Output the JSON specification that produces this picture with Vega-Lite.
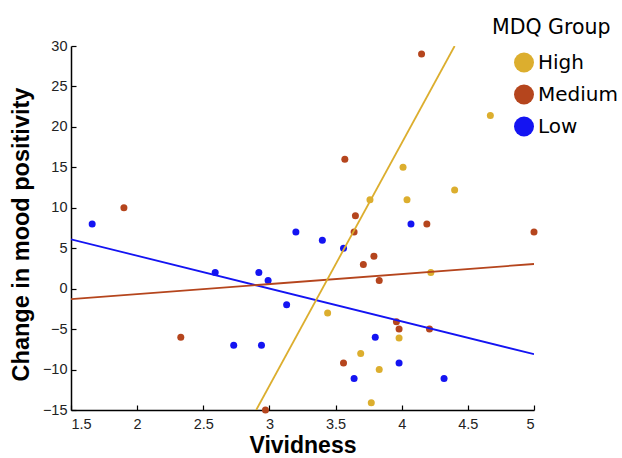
{
  "$schema": "https://vega.github.io/schema/vega-lite/v6.json",
  "autosize": "none",
  "width": 463,
  "height": 364,
  "padding": {"left": 71, "top": 46, "right": 88, "bottom": 48},
  "config": {
    "view": {"stroke": null},
    "font": "Liberation Sans",
    "axis": {
      "grid": false,
      "domainColor": "#000000",
      "domainWidth": 1.5,
      "tickColor": "#000000",
      "tickWidth": 1.2,
      "tickSize": -5,
      "labelColor": "#222222",
      "labelFontSize": 14.5,
      "labelFont": "Liberation Sans",
      "titleFont": "Liberation Sans",
      "titleFontSize": 23,
      "titleFontWeight": "bold",
      "titleColor": "#000000"
    }
  },
  "datasets": {
    "points": [
      {"vividness": 1.66, "change": 8, "group": "Low"},
      {"vividness": 3.2, "change": 7, "group": "Low"},
      {"vividness": 2.59, "change": 2, "group": "Low"},
      {"vividness": 2.92, "change": 2, "group": "Low"},
      {"vividness": 2.99, "change": 1, "group": "Low"},
      {"vividness": 3.13, "change": -2, "group": "Low"},
      {"vividness": 2.73, "change": -7, "group": "Low"},
      {"vividness": 2.94, "change": -7, "group": "Low"},
      {"vividness": 4.07, "change": 8, "group": "Low"},
      {"vividness": 3.4, "change": 6, "group": "Low"},
      {"vividness": 3.56, "change": 5, "group": "Low"},
      {"vividness": 3.8, "change": -6, "group": "Low"},
      {"vividness": 3.98, "change": -9.2, "group": "Low"},
      {"vividness": 3.64, "change": -11.1, "group": "Low"},
      {"vividness": 4.32, "change": -11.1, "group": "Low"},
      {"vividness": 1.9, "change": 10, "group": "Medium"},
      {"vividness": 4.15, "change": 29, "group": "Medium"},
      {"vividness": 3.57, "change": 16, "group": "Medium"},
      {"vividness": 3.65, "change": 9, "group": "Medium"},
      {"vividness": 4.19, "change": 8, "group": "Medium"},
      {"vividness": 2.33, "change": -6, "group": "Medium"},
      {"vividness": 2.97, "change": -15, "group": "Medium"},
      {"vividness": 5.0, "change": 7, "group": "Medium"},
      {"vividness": 3.64, "change": 7, "group": "Medium"},
      {"vividness": 3.79, "change": 4, "group": "Medium"},
      {"vividness": 3.71, "change": 3, "group": "Medium"},
      {"vividness": 3.83, "change": 1, "group": "Medium"},
      {"vividness": 3.96, "change": -4.1, "group": "Medium"},
      {"vividness": 3.98, "change": -5, "group": "Medium"},
      {"vividness": 4.21, "change": -5, "group": "Medium"},
      {"vividness": 3.56, "change": -9.2, "group": "Medium"},
      {"vividness": 4.67, "change": 21.4, "group": "High"},
      {"vividness": 4.01, "change": 15, "group": "High"},
      {"vividness": 4.4, "change": 12.2, "group": "High"},
      {"vividness": 3.76, "change": 11, "group": "High"},
      {"vividness": 4.04, "change": 11, "group": "High"},
      {"vividness": 4.22, "change": 2, "group": "High"},
      {"vividness": 3.44, "change": -3, "group": "High"},
      {"vividness": 3.98, "change": -6.1, "group": "High"},
      {"vividness": 3.69, "change": -8, "group": "High"},
      {"vividness": 3.83, "change": -10, "group": "High"},
      {"vividness": 3.77, "change": -14.1, "group": "High"}
    ],
    "fits": [
      {"vividness": 1.5, "change": 6.1, "group": "Low"},
      {"vividness": 5.0, "change": -8.1, "group": "Low"},
      {"vividness": 1.5, "change": -1.3, "group": "Medium"},
      {"vividness": 5.0, "change": 3.05, "group": "Medium"},
      {"vividness": 2.9, "change": -15, "group": "High"},
      {"vividness": 4.4, "change": 30, "group": "High"}
    ]
  },
  "encoding": {
    "x": {
      "field": "vividness", "type": "quantitative",
      "scale": {"domain": [1.5, 5], "nice": false, "zero": false},
      "axis": {"title": "Vividness", "values": [1.5, 2, 2.5, 3, 3.5, 4, 4.5, 5], "format": "~g", "labelPadding": 12, "titlePadding": 4}
    },
    "y": {
      "field": "change", "type": "quantitative",
      "scale": {"domain": [-15, 30], "nice": false, "zero": false},
      "axis": {"title": "Change in mood positivity", "values": [-15, -10, -5, 0, 5, 10, 15, 20, 25, 30], "labelPadding": 9, "titlePadding": 9, "titleY": 188, "titleFontSize": 23.5}
    },
    "color": {
      "field": "group", "type": "nominal",
      "scale": {"domain": ["High", "Medium", "Low"], "range": ["#DCAE2E", "#B5451D", "#1414F2"]},
      "legend": {
        "title": "MDQ Group",
        "orient": "none",
        "legendX": 421,
        "legendY": -28,
        "titleFont": "DejaVu Sans",
        "titleFontSize": 20.5,
        "titleFontWeight": "normal",
        "titleColor": "#000000",
        "titlePadding": 14,
        "labelFont": "DejaVu Sans",
        "labelFontSize": 20,
        "labelColor": "#000000",
        "labelOffset": 4,
        "labelLimit": 200,
        "symbolSize": 400,
        "symbolOffset": 22,
        "symbolType": "circle",
        "symbolStrokeWidth": 0,
        "rowPadding": 12
      }
    }
  },
  "layer": [
    {
      "data": {"name": "points"},
      "mark": {"type": "circle", "size": 49, "opacity": 1}
    },
    {
      "data": {"name": "fits"},
      "mark": {"type": "line", "strokeWidth": 1.8, "clip": true},
      "encoding": {"detail": {"field": "group"}}
    }
  ]
}
